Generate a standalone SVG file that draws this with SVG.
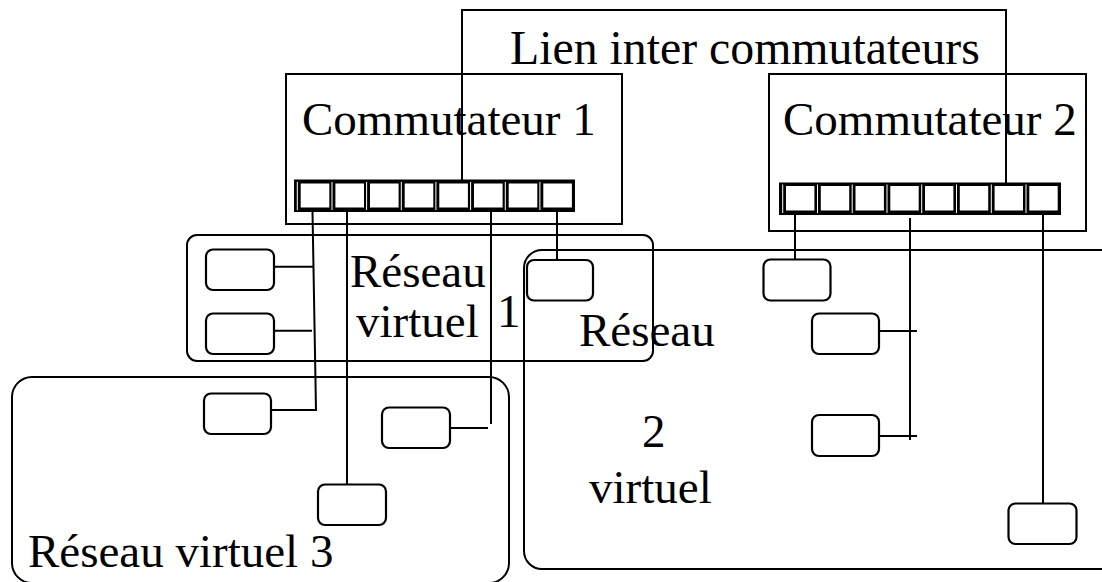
<svg xmlns="http://www.w3.org/2000/svg" width="1102" height="582" viewBox="0 0 1102 582">
<style>
.t{font-family:"Liberation Serif","Times New Roman",serif;font-size:47px;fill:#000}
.box{fill:none;stroke:#000;stroke-width:2}
.dev{fill:#fff;stroke:#000;stroke-width:2.2}
.ln{fill:none;stroke:#000;stroke-width:2}
.strip{fill:#000}
.pw{fill:#fff}
</style>
<rect width="1102" height="582" fill="#fff"/>

<g id="vlan3">
<rect class="box" x="12" y="377" width="497" height="206" rx="20"/>
<text class="t" x="28" y="567">Réseau virtuel 3</text>
</g>
<g id="vlan2">
<rect class="box" x="524" y="250" width="600" height="319" rx="18"/>
<text class="t" x="579" y="346">Réseau</text>
<text class="t" x="642" y="447">2</text>
<text class="t" x="589" y="503">virtuel</text>
</g>
<g id="vlan1">
<rect class="box" x="187" y="235" width="466" height="126" rx="10"/>
<text class="t" x="350" y="287">Réseau</text>
<text class="t" x="356" y="337">virtuel</text>
<text class="t" x="497" y="327">1</text>
</g>

<g id="lien">
<path class="ln" d="M462,186 V10 H1006 V187" stroke-width="1.6"/>
<text class="t" x="510" y="64" style="font-size:47.8px">Lien inter commutateurs</text>
</g>

<g id="sw1">
<rect class="box" x="286" y="74" width="336" height="150"/>
<text class="t" x="302" y="135">Commutateur 1</text>
<rect class="strip" x="294" y="179.5" width="281" height="32.5"/>
<g class="pw">
<rect x="300.7" y="183.5" width="28.6" height="24"/><rect x="296.8" y="182" width="1" height="28"/>
<rect x="335.4" y="183.5" width="28.6" height="24"/><rect x="331.5" y="182" width="1" height="28"/>
<rect x="370.0" y="183.5" width="28.6" height="24"/><rect x="366.1" y="182" width="1" height="28"/>
<rect x="404.7" y="183.5" width="28.6" height="24"/><rect x="400.8" y="182" width="1" height="28"/>
<rect x="439.3" y="183.5" width="28.6" height="24"/><rect x="435.4" y="182" width="1" height="28"/>
<rect x="474.0" y="183.5" width="28.6" height="24"/><rect x="470.1" y="182" width="1" height="28"/>
<rect x="508.7" y="183.5" width="28.6" height="24"/><rect x="504.8" y="182" width="1" height="28"/>
<rect x="543.3" y="183.5" width="28.6" height="24"/><rect x="539.4" y="182" width="1" height="28"/>
</g>
</g>

<g id="sw2">
<rect class="box" x="769" y="74" width="317" height="157"/>
<text class="t" x="783" y="135">Commutateur 2</text>
<rect class="strip" x="779" y="182.5" width="282" height="32.5"/>
<g class="pw">
<rect x="786.0" y="186" width="28.4" height="24.5"/><rect x="782.2" y="184.5" width="1" height="28.5"/>
<rect x="820.8" y="186" width="28.4" height="24.5"/><rect x="817.0" y="184.5" width="1" height="28.5"/>
<rect x="855.5" y="186" width="28.4" height="24.5"/><rect x="851.7" y="184.5" width="1" height="28.5"/>
<rect x="890.3" y="186" width="28.4" height="24.5"/><rect x="886.5" y="184.5" width="1" height="28.5"/>
<rect x="925.0" y="186" width="28.4" height="24.5"/><rect x="921.2" y="184.5" width="1" height="28.5"/>
<rect x="959.8" y="186" width="28.4" height="24.5"/><rect x="956.0" y="184.5" width="1" height="28.5"/>
<rect x="994.6" y="186" width="28.4" height="24.5"/><rect x="990.8" y="184.5" width="1" height="28.5"/>
<rect x="1029.3" y="186" width="28.4" height="24.5"/><rect x="1025.5" y="184.5" width="1" height="28.5"/>
</g>
<path class="ln" d="M1006,186 V182" stroke-width="1.6"/>
</g>

<g id="connectors">
<path class="ln" d="M312.5,212 L316,410 H270"/>
<path class="ln" d="M274,266.7 H313.5"/>
<path class="ln" d="M274,330.7 H312"/>
<path class="ln" d="M347,212 V484"/>
<path class="ln" d="M491,212 V424"/>
<path class="ln" d="M450,428 H488"/>
<path class="ln" d="M557,212 V260"/>
<path class="ln" d="M795,215 V259"/>
<path class="ln" d="M910,218 V440"/>
<path class="ln" d="M879,331 H917"/>
<path class="ln" d="M879,436 H917"/>
<path class="ln" d="M1043,215 V503"/>
</g>

<g id="dev1"><rect class="dev" x="206" y="249.5" width="68" height="40.5" rx="7"/></g>
<g id="dev2"><rect class="dev" x="206" y="313.5" width="68" height="40.5" rx="7"/></g>
<g id="dev3"><rect class="dev" x="204" y="393.5" width="67" height="40.5" rx="7"/></g>
<g id="dev4"><rect class="dev" x="382" y="407.5" width="68" height="40.5" rx="7"/></g>
<g id="dev5"><rect class="dev" x="318" y="484.5" width="68" height="40.5" rx="7"/></g>
<g id="dev6"><rect class="dev" x="527" y="260" width="66" height="40.5" rx="7"/></g>
<g id="dev7"><rect class="dev" x="763.5" y="259.5" width="67" height="41" rx="7"/></g>
<g id="dev8"><rect class="dev" x="812" y="313.5" width="67" height="40.5" rx="7"/></g>
<g id="dev9"><rect class="dev" x="812" y="415" width="67" height="41" rx="7"/></g>
<g id="dev10"><rect class="dev" x="1008.5" y="503.5" width="68" height="40.5" rx="7"/></g>
</svg>
